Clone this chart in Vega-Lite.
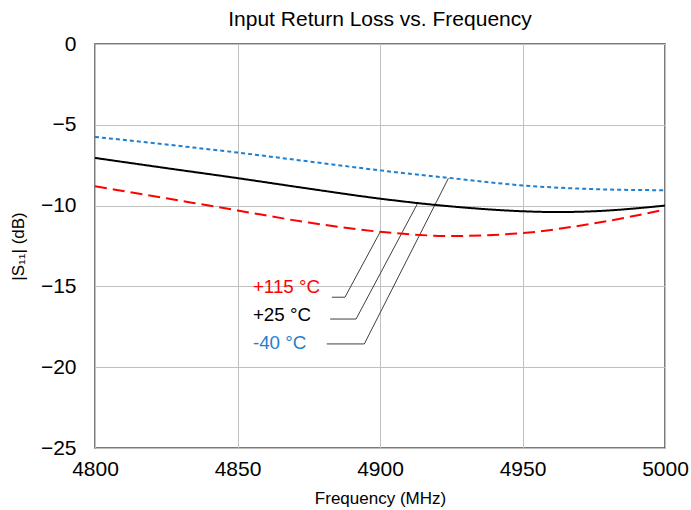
{
  "$schema": "https://vega.github.io/schema/vega-lite/v6.json",
  "width": 570,
  "height": 404,
  "autosize": {"type": "none"},
  "padding": {"left": 95, "top": 44, "right": 26, "bottom": 62},
  "background": "white",
  "config": {
    "font": "Liberation Sans",
    "view": {"stroke": "#505050", "strokeWidth": 1.5},
    "axis": {"grid": true, "gridColor": "#c0c0c0", "gridWidth": 1, "ticks": false, "domain": false, "labelColor": "black", "titleColor": "black", "labelFont": "Liberation Sans", "titleFont": "Liberation Sans", "titleFontWeight": "normal", "labelFlush": false}
  },
  "title": {"text": "Input Return Loss vs. Frequency", "fontSize": 21, "fontWeight": "normal", "font": "Liberation Sans", "color": "black", "anchor": "middle", "baseline": "alphabetic", "offset": -14},
  "datasets": {
    "curves": [
      {"f": 4800, "s": -5.75, "t": "-40 °C"},
      {"f": 4825, "s": -6.22, "t": "-40 °C"},
      {"f": 4850, "s": -6.72, "t": "-40 °C"},
      {"f": 4875, "s": -7.27, "t": "-40 °C"},
      {"f": 4900, "s": -7.82, "t": "-40 °C"},
      {"f": 4925, "s": -8.3, "t": "-40 °C"},
      {"f": 4950, "s": -8.75, "t": "-40 °C"},
      {"f": 4975, "s": -8.98, "t": "-40 °C"},
      {"f": 5000, "s": -9.05, "t": "-40 °C"},
      {"f": 4800, "s": -7.05, "t": "+25 °C"},
      {"f": 4825, "s": -7.68, "t": "+25 °C"},
      {"f": 4850, "s": -8.3, "t": "+25 °C"},
      {"f": 4875, "s": -8.95, "t": "+25 °C"},
      {"f": 4900, "s": -9.57, "t": "+25 °C"},
      {"f": 4925, "s": -10.05, "t": "+25 °C"},
      {"f": 4950, "s": -10.35, "t": "+25 °C"},
      {"f": 4962, "s": -10.4, "t": "+25 °C"},
      {"f": 4975, "s": -10.35, "t": "+25 °C"},
      {"f": 5000, "s": -10.0, "t": "+25 °C"},
      {"f": 4800, "s": -8.8, "t": "+115 °C"},
      {"f": 4825, "s": -9.55, "t": "+115 °C"},
      {"f": 4850, "s": -10.3, "t": "+115 °C"},
      {"f": 4875, "s": -11.05, "t": "+115 °C"},
      {"f": 4900, "s": -11.62, "t": "+115 °C"},
      {"f": 4925, "s": -11.88, "t": "+115 °C"},
      {"f": 4950, "s": -11.7, "t": "+115 °C"},
      {"f": 4975, "s": -11.1, "t": "+115 °C"},
      {"f": 5000, "s": -10.25, "t": "+115 °C"}
    ],
    "leaders": [
      {"f": 4883.1, "s": -15.67, "t": "+115 °C", "o": 1},
      {"f": 4887.7, "s": -15.67, "t": "+115 °C", "o": 2},
      {"f": 4900.0, "s": -11.65, "t": "+115 °C", "o": 3},
      {"f": 4882.5, "s": -17.02, "t": "+25 °C", "o": 1},
      {"f": 4891.6, "s": -17.02, "t": "+25 °C", "o": 2},
      {"f": 4913.2, "s": -9.86, "t": "+25 °C", "o": 3},
      {"f": 4881.3, "s": -18.56, "t": "-40 °C", "o": 1},
      {"f": 4894.5, "s": -18.56, "t": "-40 °C", "o": 2},
      {"f": 4924.0, "s": -8.31, "t": "-40 °C", "o": 3}
    ],
    "labels": [
      {"f": 4855.4, "s": -15.04, "t": "+115 °C"},
      {"f": 4855.4, "s": -16.77, "t": "+25 °C"},
      {"f": 4855.4, "s": -18.5, "t": "-40 °C"}
    ]
  },
  "encoding": {
    "x": {"field": "f", "type": "quantitative", "scale": {"domain": [4800, 5000], "nice": false, "zero": false},
      "axis": {"title": "Frequency (MHz)", "values": [4800, 4850, 4900, 4950, 5000], "labelFontSize": 21, "labelPadding": 10, "titleFontSize": 17, "titlePadding": 11, "format": "d"}},
    "y": {"field": "s", "type": "quantitative", "scale": {"domain": [-25, 0], "nice": false, "zero": false},
      "axis": {"title": "|S₁₁| (dB)", "values": [-25, -20, -15, -10, -5, 0], "labelFontSize": 21, "labelPadding": 19, "titleFontSize": 17, "titlePadding": 13}}
  },
  "layer": [
    {
      "data": {"name": "leaders"},
      "mark": {"type": "line", "color": "#404040", "strokeWidth": 1},
      "encoding": {"detail": {"field": "t"}, "order": {"field": "o", "type": "quantitative"}}
    },
    {
      "data": {"name": "curves"},
      "mark": {"type": "line", "interpolate": "monotone", "strokeWidth": 2},
      "encoding": {
        "color": {"field": "t", "type": "nominal", "scale": {"domain": ["-40 °C", "+25 °C", "+115 °C"], "range": ["#1F7FD0", "#000000", "#FF0000"]}, "legend": null},
        "strokeDash": {"field": "t", "type": "nominal", "scale": {"domain": ["-40 °C", "+25 °C", "+115 °C"], "range": [[4, 3], [1, 0], [12, 6]]}, "legend": null}
      }
    },
    {
      "data": {"name": "labels"},
      "mark": {"type": "text", "align": "left", "baseline": "middle", "fontSize": 18.8, "font": "Liberation Sans"},
      "encoding": {
        "text": {"field": "t"},
        "color": {"field": "t", "type": "nominal", "scale": {"domain": ["-40 °C", "+25 °C", "+115 °C"], "range": ["#1F7FD0", "#000000", "#FF0000"]}, "legend": null}
      }
    }
  ]
}
